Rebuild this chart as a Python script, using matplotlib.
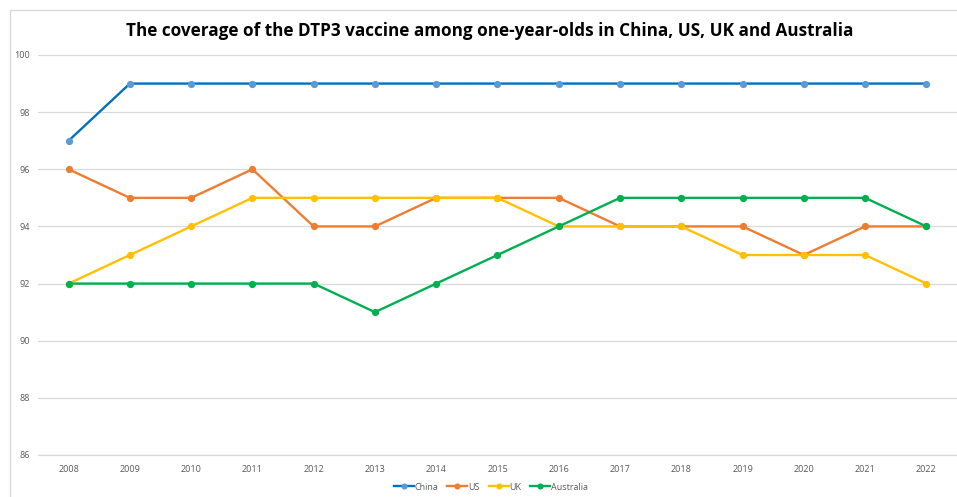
import matplotlib
matplotlib.use("Agg")
import matplotlib.pyplot as plt
from matplotlib.patches import Rectangle

years = [2008, 2009, 2010, 2011, 2012, 2013, 2014, 2015, 2016, 2017, 2018, 2019, 2020, 2021, 2022]
china = [97, 99, 99, 99, 99, 99, 99, 99, 99, 99, 99, 99, 99, 99, 99]
us = [96, 95, 95, 96, 94, 94, 95, 95, 95, 94, 94, 94, 93, 94, 94]
uk = [92, 93, 94, 95, 95, 95, 95, 95, 94, 94, 94, 93, 93, 93, 92]
australia = [92, 92, 92, 92, 92, 91, 92, 93, 94, 95, 95, 95, 95, 95, 94]
y_ticks = [86, 88, 90, 92, 94, 96, 98, 100]
title = "The coverage of the DTP3 vaccine among one-year-olds in China, US, UK and Australia"

plt.rcParams['font.family'] = ['Open Sans', 'DejaVu Sans']

fig = plt.figure(figsize=(9.57, 4.97), dpi=100)
fig.patches.append(Rectangle((10/957, -0.1), 1.2, 1 - 10/497 + 0.1, transform=fig.transFigure,
                             fill=False, edgecolor='#D9D9D9', linewidth=1.0))
ax = fig.add_axes([38/957, 1 - 455/497, 1 - 38/957, (455 - 55)/497])

series = [
    ("China", china, '#0070C0', '#5B9BD5'),
    ("US", us, '#ED7D31', '#ED7D31'),
    ("UK", uk, '#FFC000', '#FFC000'),
    ("Australia", australia, '#00B050', '#00B050'),
]
for name, vals, lc, mc in series:
    ax.plot(years, vals, color=lc, linewidth=1.7, marker='o', markersize=4.2,
            markerfacecolor=mc, markeredgecolor=mc, label=name, zorder=3)

ax.set_xlim(2007.5, 2022.5)
ax.set_ylim(86, 100)
ax.set_yticks(y_ticks)
ax.set_xticks(years)
ax.set_xticklabels([str(y) for y in years])
ax.grid(axis='y', color='#D9D9D9', linewidth=0.9)
ax.set_axisbelow(True)
for s in ['top', 'right', 'left']:
    ax.spines[s].set_visible(False)
ax.spines['bottom'].set_color('#D9D9D9')
ax.spines['bottom'].set_linewidth(0.9)
ax.tick_params(axis='both', length=0, colors='#595959', labelsize=6.5)
ax.tick_params(axis='x', pad=7)
ax.tick_params(axis='y', pad=6)

fig.text(490/957, 1 - 31/497, title, ha='center', va='center', fontsize=12.3,
         fontweight='bold', color='black')

leg = fig.legend(loc='center', bbox_to_anchor=(491/957, 1 - 487/497), ncol=4, frameon=False,
                 fontsize=6.5, handlelength=2.2, handletextpad=0.1, columnspacing=1.0,
                 markerscale=0.8)
for t in leg.get_texts():
    t.set_color('#595959')

fig.savefig("out.png", dpi=100)
